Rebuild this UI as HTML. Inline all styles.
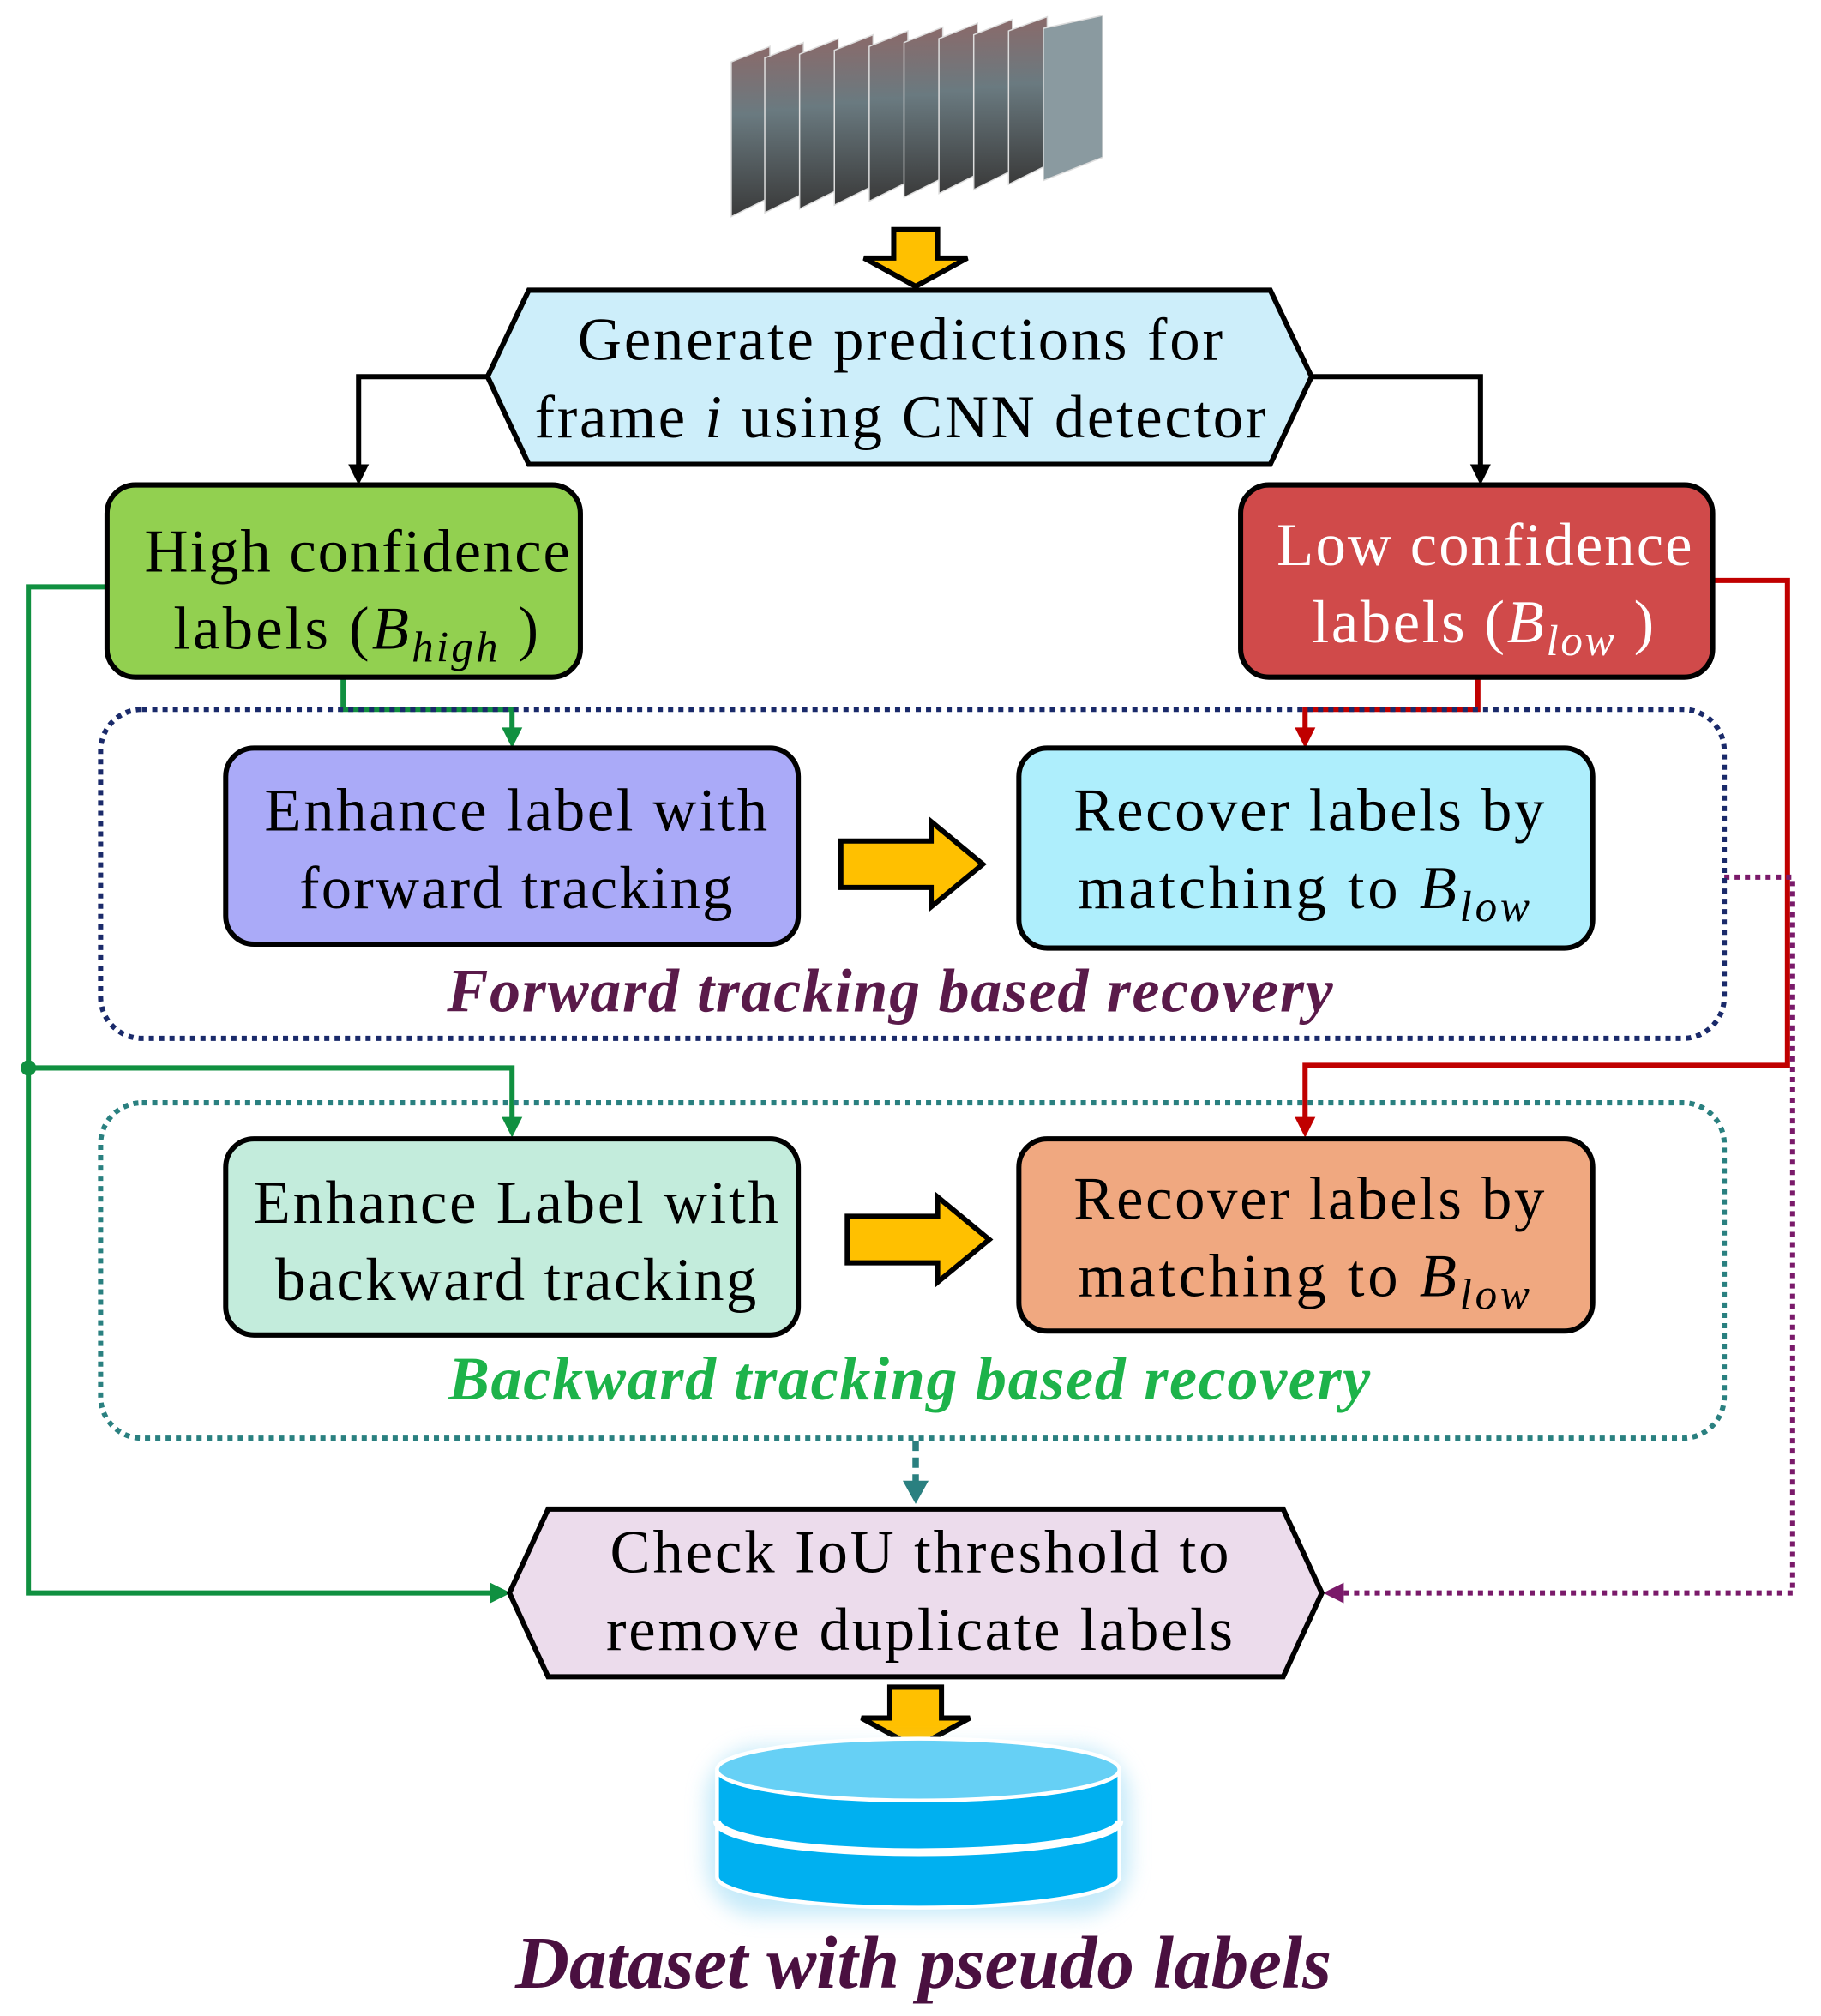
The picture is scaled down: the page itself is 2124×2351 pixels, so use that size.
<!DOCTYPE html>
<html><head><meta charset="utf-8"><style>
html,body{margin:0;padding:0;background:#fff;}
svg{display:block;}
text{font-family:"Liberation Serif",serif;}
</style></head><body>
<svg width="2124" height="2351" viewBox="0 0 1412 1563" xmlns="http://www.w3.org/2000/svg">
<defs>
<linearGradient id="fr" x1="0" y1="0" x2="0" y2="1">
<stop offset="0" stop-color="#8a6a6a"/><stop offset="0.4" stop-color="#6a7a80"/><stop offset="1" stop-color="#3a3a3a"/>
</linearGradient>
<filter id="glow" x="-20%" y="-30%" width="140%" height="160%"><feGaussianBlur stdDeviation="8"/></filter>
</defs>
<g stroke="#ddd" stroke-width="1">
<polygon points="567,48 597,36 597,153 567,168" fill="url(#fr)"/>
<polygon points="593,45 623,33 623,150 593,165" fill="url(#fr)"/>
<polygon points="620,42 650,30 650,147 620,162" fill="url(#fr)"/>
<polygon points="647,39 677,27 677,144 647,159" fill="url(#fr)"/>
<polygon points="674,36 704,24 704,141 674,156" fill="url(#fr)"/>
<polygon points="701,33 731,21 731,138 701,153" fill="url(#fr)"/>
<polygon points="728,30 758,18 758,135 728,150" fill="url(#fr)"/>
<polygon points="755,27 785,15 785,132 755,147" fill="url(#fr)"/>
<polygon points="782,24 812,13 812,128 782,143" fill="url(#fr)"/>
<polygon points="809,22 855,12 855,122 809,140" fill="#8a9aa0"/>
</g>
<polygon points="693,178 727,178 727,200 750,200 710,222 670,200 693,200" fill="#ffc000" stroke="#000" stroke-width="4"/>
<polygon points="378,292 410,225 985,225 1017,292 985,360 410,360" fill="#cdeefa" stroke="#000" stroke-width="4"/>
<text x="698" y="279" font-size="47" text-anchor="middle" textLength="500" lengthAdjust="spacing">Generate predictions for</text>
<text x="698" y="339" font-size="47" text-anchor="middle" textLength="567" lengthAdjust="spacing">frame <tspan font-style="italic">i</tspan> using CNN detector</text>
<polyline points="378,292 278,292 278,365" fill="none" stroke="#000" stroke-width="4"/>
<polygon points="270,360 286,360 278,376" fill="#000"/>
<polyline points="1017,292 1148,292 1148,365" fill="none" stroke="#000" stroke-width="4"/>
<polygon points="1140,360 1156,360 1148,376" fill="#000"/>
<g fill="none" stroke="#109040" stroke-width="4">
<polyline points="83,455 22,455 22,1235 385,1235"/>
<polyline points="22,828 397,828 397,870"/>
<polyline points="266,525 266,550 397,550 397,568"/>
</g>
<circle cx="22" cy="828" r="6" fill="#109040"/>
<polygon points="380,1227 396,1235 380,1243" fill="#109040"/>
<polygon points="389,866 405,866 397,882" fill="#109040"/>
<polygon points="389,564 405,564 397,580" fill="#109040"/>
<g fill="none" stroke="#c00000" stroke-width="4">
<polyline points="1146,525 1146,550 1012,550 1012,568"/>
<polyline points="1328,450 1386,450 1386,826 1012,826 1012,870"/>
</g>
<polygon points="1004,564 1020,564 1012,580" fill="#c00000"/>
<polygon points="1004,866 1020,866 1012,882" fill="#c00000"/>
<polyline points="1337,680 1390,680 1390,1235 1040,1235" fill="none" stroke="#7a1a6a" stroke-width="4" stroke-dasharray="4,4"/>
<polygon points="1042,1227 1026,1235 1042,1243" fill="#7a1a6a"/>
<rect x="78" y="550" width="1259" height="255" rx="32" fill="none" stroke="#1a2a6a" stroke-width="4" stroke-dasharray="4,4"/>
<rect x="78" y="855" width="1259" height="260" rx="32" fill="none" stroke="#2a8080" stroke-width="4" stroke-dasharray="4,4"/>
<rect x="83" y="376" width="367" height="149" rx="22" fill="#92d050" stroke="#000" stroke-width="4"/>
<text x="277" y="443" font-size="47" text-anchor="middle" textLength="330" lengthAdjust="spacing">High confidence</text>
<text x="276" y="503" font-size="47" text-anchor="middle" textLength="283" lengthAdjust="spacing">labels (<tspan font-style="italic">B</tspan><tspan font-style="italic" font-size="34" dy="10">high</tspan><tspan dy="-10"> )</tspan></text>
<rect x="962" y="376" width="366" height="149" rx="22" fill="#d04a4a" stroke="#000" stroke-width="4"/>
<text x="1151" y="438" font-size="47" text-anchor="middle" fill="#fff" textLength="322" lengthAdjust="spacing">Low confidence</text>
<text x="1150" y="498" font-size="47" text-anchor="middle" fill="#fff" textLength="265" lengthAdjust="spacing">labels (<tspan font-style="italic">B</tspan><tspan font-style="italic" font-size="34" dy="10">low</tspan><tspan dy="-10"> )</tspan></text>
<rect x="175" y="580" width="444" height="152" rx="22" fill="#aaaaf8" stroke="#000" stroke-width="4"/>
<text x="400" y="644" font-size="47" text-anchor="middle" textLength="390" lengthAdjust="spacing">Enhance label with</text>
<text x="400" y="704" font-size="47" text-anchor="middle" textLength="336" lengthAdjust="spacing">forward tracking</text>
<polygon points="652,652 722,652 722,637 762,670 722,703 722,688 652,688" fill="#ffc000" stroke="#000" stroke-width="4"/>
<rect x="790" y="580" width="445" height="155" rx="22" fill="#aeeefc" stroke="#000" stroke-width="4"/>
<text x="1015" y="644" font-size="47" text-anchor="middle" textLength="365" lengthAdjust="spacing">Recover labels by</text>
<text x="1011" y="704" font-size="47" text-anchor="middle" textLength="350" lengthAdjust="spacing">matching to <tspan font-style="italic">B</tspan><tspan font-style="italic" font-size="34" dy="10">low</tspan></text>
<text x="690" y="784" font-size="48" text-anchor="middle" font-weight="bold" font-style="italic" fill="#5a1a4a" textLength="687" lengthAdjust="spacing">Forward tracking based recovery</text>
<rect x="175" y="883" width="444" height="152" rx="22" fill="#c3ecdc" stroke="#000" stroke-width="4"/>
<text x="400" y="948" font-size="47" text-anchor="middle" textLength="407" lengthAdjust="spacing">Enhance Label with</text>
<text x="400" y="1008" font-size="47" text-anchor="middle" textLength="373" lengthAdjust="spacing">backward tracking</text>
<polygon points="657,943 727,943 727,928 767,961 727,994 727,979 657,979" fill="#ffc000" stroke="#000" stroke-width="4"/>
<rect x="790" y="883" width="445" height="149" rx="22" fill="#f0a880" stroke="#000" stroke-width="4"/>
<text x="1015" y="945" font-size="47" text-anchor="middle" textLength="365" lengthAdjust="spacing">Recover labels by</text>
<text x="1011" y="1005" font-size="47" text-anchor="middle" textLength="350" lengthAdjust="spacing">matching to <tspan font-style="italic">B</tspan><tspan font-style="italic" font-size="34" dy="10">low</tspan></text>
<text x="705" y="1085" font-size="48" text-anchor="middle" font-weight="bold" font-style="italic" fill="#1db34a" textLength="715" lengthAdjust="spacing">Backward tracking based recovery</text>
<line x1="710" y1="1117" x2="710" y2="1152" stroke="#2a8080" stroke-width="5" stroke-dasharray="8,5"/>
<polygon points="700,1148 720,1148 710,1166" fill="#2a8080"/>
<polygon points="395,1235 425,1170 995,1170 1025,1235 995,1300 425,1300" fill="#ecdcec" stroke="#000" stroke-width="4"/>
<text x="713" y="1219" font-size="47" text-anchor="middle" textLength="480" lengthAdjust="spacing">Check IoU threshold to</text>
<text x="713" y="1279" font-size="47" text-anchor="middle" textLength="486" lengthAdjust="spacing">remove duplicate labels</text>
<polygon points="690,1308 730,1308 730,1332 752,1332 710,1355 668,1332 690,1332" fill="#ffc000" stroke="#000" stroke-width="4"/>
<g filter="url(#glow)" opacity="0.6">
<rect x="548" y="1355" width="328" height="130" rx="40" fill="#9fdcf5"/>
</g>
<path d="M556,1372 L556,1455 A156,24 0 0 0 868,1455 L868,1372 Z" fill="#00b0f0" stroke="#fff" stroke-width="3"/>
<path d="M556,1412 A156,24 0 0 0 868,1412" fill="none" stroke="#fff" stroke-width="6"/>
<ellipse cx="712" cy="1372" rx="156" ry="24" fill="#66d0f5" stroke="#fff" stroke-width="3"/>
<text x="716" y="1541" font-size="58" text-anchor="middle" font-weight="bold" font-style="italic" fill="#4a1040" textLength="633" lengthAdjust="spacing">Dataset with pseudo labels</text>
</svg>
</body></html>
